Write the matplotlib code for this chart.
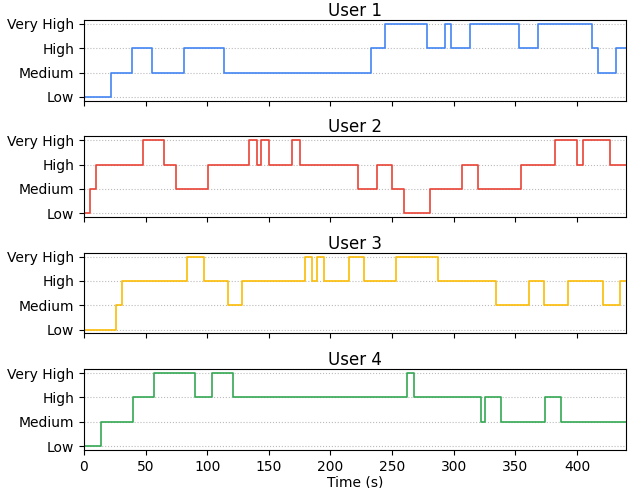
import matplotlib.pyplot as plt
import numpy as np

levels = ['Low', 'Medium', 'High', 'Very High']
users = ['User 1', 'User 2', 'User 3', 'User 4']
colors = ['#4285F4', '#EA4335', '#FBBC05', '#34A853']

# change times (s) and level held from that time on (0=Low .. 3=Very High)
t1 = [0, 22, 39, 55, 81, 114, 233, 244, 278, 293, 298, 313, 353, 368, 412, 417, 432]
v1 = [0, 1, 2, 1, 2, 1, 2, 3, 2, 3, 2, 3, 2, 3, 2, 1, 2]

t2 = [0, 5, 10, 48, 65, 75, 101, 134, 140, 144, 150, 169, 175, 222, 238, 250, 260,
      281, 307, 320, 355, 382, 400, 405, 427]
v2 = [0, 1, 2, 3, 2, 1, 2, 3, 2, 3, 2, 3, 2, 1, 2, 1, 0,
      1, 2, 1, 2, 3, 2, 3, 2]

t3 = [0, 26, 31, 84, 97, 117, 128, 179, 185, 189, 195, 215, 227, 253, 287, 334,
      361, 373, 393, 421, 435]
v3 = [0, 1, 2, 3, 2, 1, 2, 3, 2, 3, 2, 3, 2, 3, 2, 1,
      2, 1, 2, 1, 2]

t4 = [0, 14, 40, 57, 90, 104, 121, 262, 268, 322, 325, 338, 374, 387]
v4 = [0, 1, 2, 3, 2, 3, 2, 3, 2, 1, 2, 1, 2, 1]

t_end = 440

fig, axes = plt.subplots(4, 1, figsize=(6.41, 4.88), dpi=100, sharex=True)

for ax, name, c, t, v in zip(axes, users, colors, [t1, t2, t3, t4], [v1, v2, v3, v4]):
    tt = np.array(t + [t_end])
    vv = np.array(v + [v[-1]])
    ax.step(tt, vv, where='post', color=c, lw=1.2)
    ax.set_title(name, fontsize=12, pad=2)
    ax.set_yticks(range(4))
    ax.set_yticklabels(levels)
    ax.set_ylim(-0.15, 3.15)
    ax.set_xlim(0, t_end)
    ax.grid(axis='y', ls=':', color='#bbbbbb', lw=0.8)

axes[-1].set_xlabel('Time (s)', labelpad=1)

plt.subplots_adjust(left=0.131, right=0.977, top=0.959, bottom=0.078, hspace=0.445)
plt.savefig('out.png', dpi=100)
